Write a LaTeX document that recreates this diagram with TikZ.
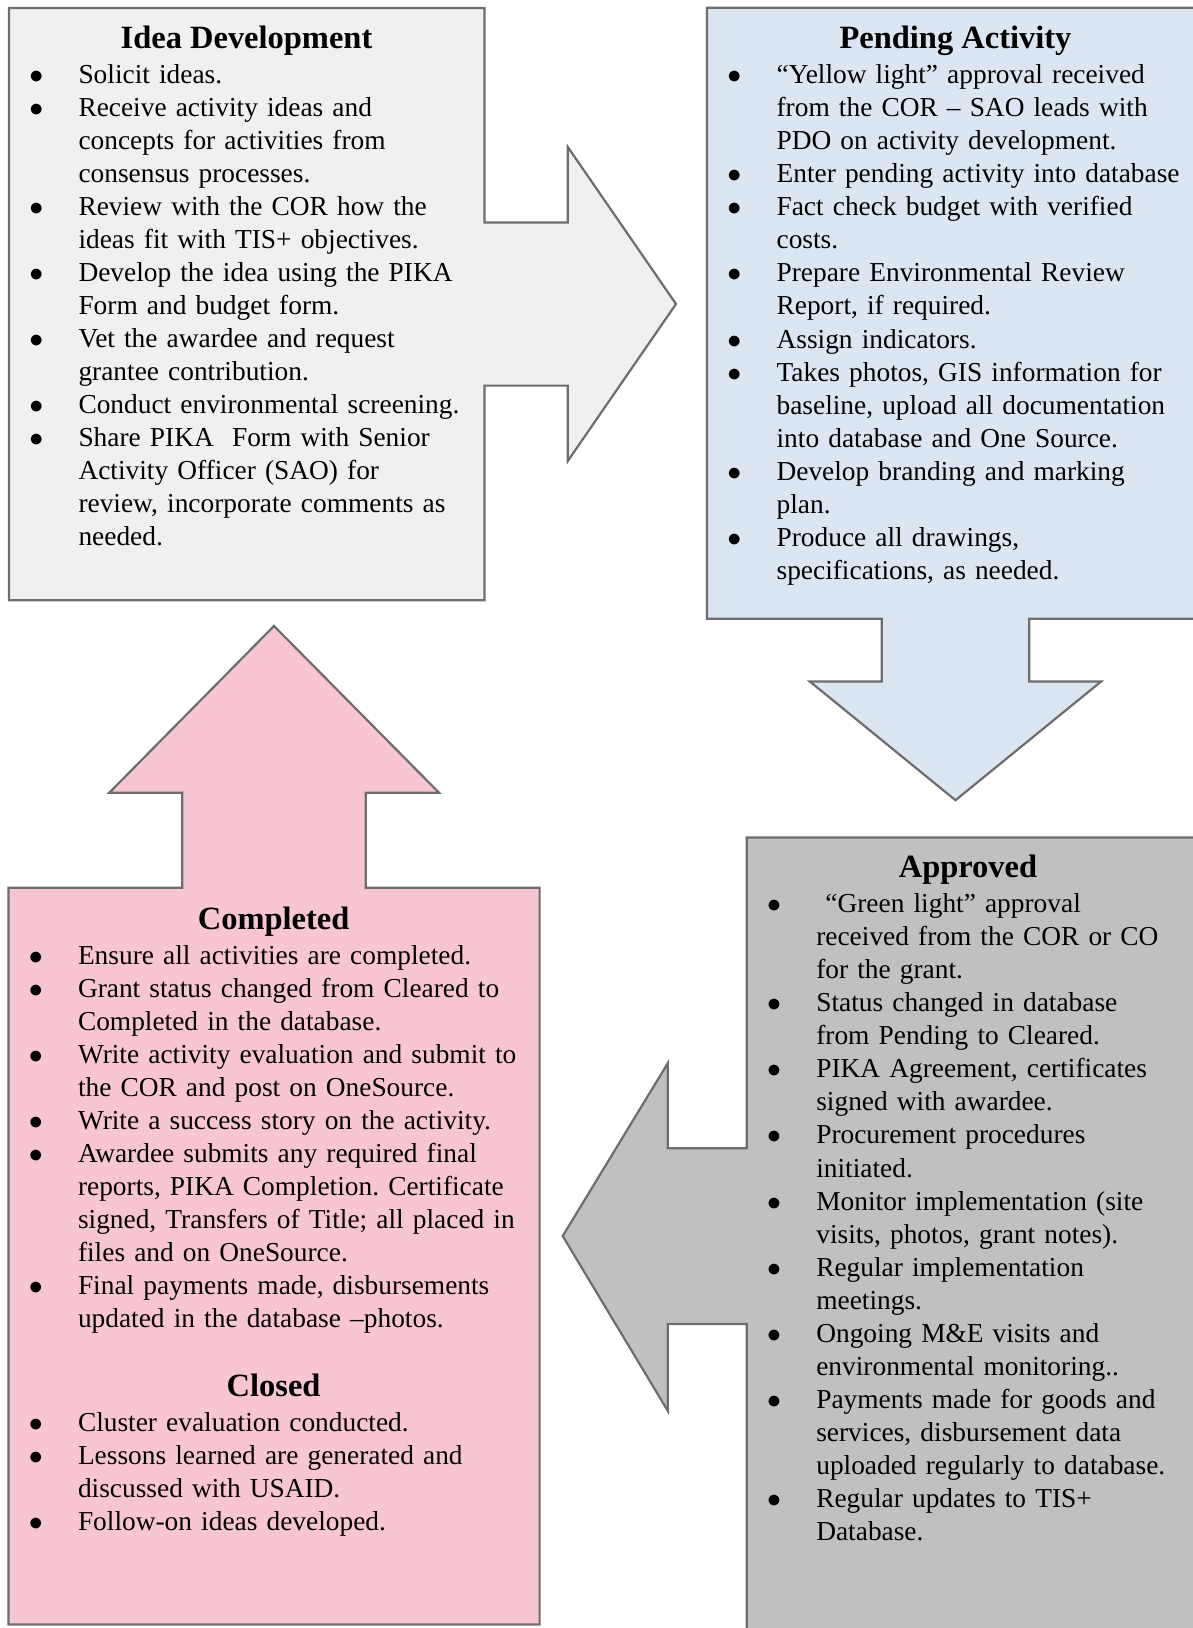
\documentclass[tikz,border=0pt]{standalone}
\usepackage{fontspec}
\setmainfont{Liberation Serif}
\frenchspacing
\definecolor{ideafill}{HTML}{F0F0F0}
\definecolor{pendfill}{HTML}{DCE6F2}
\definecolor{apprfill}{HTML}{C0C0C0}
\definecolor{compfill}{HTML}{F8C6D3}
\definecolor{edgegray}{HTML}{6D6D6D}
\newlength\bulx \setlength\bulx{8.6pt}
\newlength\txtx \setlength\txtx{29.8pt}
\newcommand{\itmhead}{\noindent\hangindent=\txtx\hangafter=1\hbox to\txtx{\hskip\bulx$\bullet$\hfil}\ignorespaces}
\newcommand{\itm}{\par\itmhead}
\tikzset{
  panel/.style={draw=edgegray, line width=0.95pt},
  head/.style={anchor=base, inner sep=0pt, font=\fontsize{14}{16}\selectfont\bfseries},
  items/.style={anchor=base west, inner sep=0pt, text width=225pt, font=\fontsize{11.8}{14.24}\selectfont},
}
\begin{document}
\begin{tikzpicture}[x=0.431pt,y=-0.431pt]
\useasboundingbox (0,0) rectangle (1193,1628);
\begin{scope}
\clip (0,0) rectangle (1193,1628);
% idea development, arrow to the right
\draw[panel,fill=ideafill] (8.9,7.9) -- (484.4,7.9) -- (484.4,222.5) -- (567.8,222.5) -- (567.8,147) -- (676,304) -- (567.8,461) -- (567.8,385.6) -- (484.4,385.6) -- (484.4,600.2) -- (8.9,600.2) -- cycle;
% pending activity, arrow down
\draw[panel,fill=pendfill] (707,7.8) -- (1205,7.8) -- (1205,618.7) -- (1029.3,618.7) -- (1029.3,681.5) -- (1101.1,681.5) -- (955.5,800.2) -- (809.9,681.5) -- (881.8,681.5) -- (881.8,618.7) -- (707,618.7) -- cycle;
% approved, arrow to the left
\draw[panel,fill=apprfill] (746.7,837.5) -- (1205,837.5) -- (1205,1640) -- (746.7,1640) -- (746.7,1324) -- (667.7,1324) -- (667.7,1410.7) -- (562.7,1236) -- (667.7,1063.3) -- (667.7,1148.3) -- (746.7,1148.3) -- cycle;
% completed and closed, arrow up
\draw[panel,fill=compfill] (8.4,887.7) -- (182.3,887.7) -- (182.3,792.7) -- (109.3,792.7) -- (274,626) -- (439,792.7) -- (365.7,792.7) -- (365.7,887.7) -- (539.6,887.7) -- (539.6,1624.5) -- (8.4,1624.5) -- cycle;
\end{scope}

% headings
\node[head] (ideahead) at (246.5,48.2) {Idea Development};
\node[head] (pendhead) at (955.5,48.1) {Pending Activity};
\node[head] (apprhead) at (968,877.7) {Approved};
\node[head] (comphead) at (273.6,929.2) {Completed};
\node[head] (closhead) at (273.6,1396.7) {Closed};

% bullet lists
\node[items] (idealist) at (8.9,83) {%
\itmhead Solicit ideas.
\itm Receive activity ideas and\newline concepts for activities from\newline consensus processes.
\itm Review with the COR how the\newline ideas fit with TIS+ objectives.
\itm Develop the idea using the PIKA\newline Form and budget form.
\itm Vet the awardee and request\newline grantee contribution.
\itm Conduct environmental screening.
\itm Share PIKA\ \ Form with Senior\newline Activity Officer (SAO) for\newline review, incorporate comments as\newline needed.\par};
\node[items] (pendlist) at (707,83.7) {%
\itmhead “Yellow light” approval received\newline from the COR – SAO leads with\newline PDO on activity development.
\itm Enter pending activity into database
\itm Fact check budget with verified\newline costs.
\itm Prepare Environmental Review\newline Report, if required.
\itm Assign indicators.
\itm Takes photos, GIS information for\newline baseline, upload all documentation\newline into database and One Source.
\itm Develop branding and marking\newline plan.
\itm Produce all drawings,\newline specifications, as needed.\par};
\node[items] (apprlist) at (746.7,912.7) {%
\itmhead ~“Green light” approval\newline received from the COR or CO\newline for the grant.
\itm Status changed in database\newline from Pending to Cleared.
\itm PIKA Agreement, certificates\newline signed with awardee.
\itm Procurement procedures\newline initiated.
\itm Monitor implementation (site\newline visits, photos, grant notes).
\itm Regular implementation\newline meetings.
\itm Ongoing M\&E visits and\newline environmental monitoring..
\itm Payments made for goods and\newline services, disbursement data\newline uploaded regularly to database.
\itm Regular updates to TIS+\newline Database.\par};
\node[items] (complist) at (8.4,964) {%
\itmhead Ensure all activities are completed.
\itm Grant status changed from Cleared to\newline Completed in the database.
\itm Write activity evaluation and submit to\newline the COR and post on OneSource.
\itm Write a success story on the activity.
\itm Awardee submits any required final\newline reports, PIKA Completion. Certificate\newline signed, Transfers of Title; all placed in\newline files and on OneSource.
\itm Final payments made, disbursements\newline updated in the database –photos.\par};
\node[items] (closlist) at (8.4,1431.5) {%
\itmhead Cluster evaluation conducted.
\itm Lessons learned are generated and\newline discussed with USAID.
\itm Follow-on ideas developed.\par};
\end{tikzpicture}
\end{document}
